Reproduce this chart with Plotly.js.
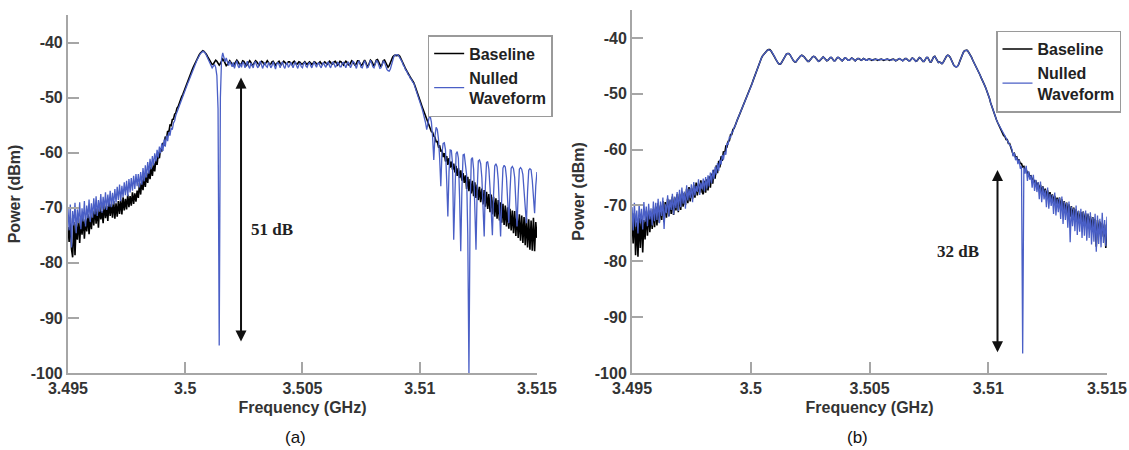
<!DOCTYPE html>
<html><head><meta charset="utf-8">
<script src="https://cdn.plot.ly/plotly-3.0.1.min.js"></script>
<style>html,body{margin:0;padding:0;background:#fff;}#chart{width:1129px;height:450px;}</style>
</head><body><div id="chart"></div>
<script>
// Frequency sweep grid (GHz): start and step of the analyzer sweep
const F_START = 3.495;
const F_STEP = 0.00005;

// Panel (a) - Baseline (dBm), one row = 0.001 GHz
const A_BASE = [
-73.5,-76.2,-71.8,-77.5,-79.0,-72.6,-78.6,-73.0,-75.8,-71.9,-76.4,-72.4,-74.9,-71.5,-75.6,-72.1,-74.3,-71.2,-74.8,-71.6,
-73.9,-70.5,-73.2,-69.8,-72.9,-70.1,-73.6,-69.5,-72.1,-70.6,-72.8,-69.2,-71.9,-69.7,-72.4,-68.9,-71.5,-69.3,-71.8,-68.8,
-72.0,-69.2,-71.6,-68.8,-71.1,-68.5,-71.2,-68.1,-70.5,-68.4,-70.3,-67.6,-69.9,-67.9,-69.6,-67.2,-69.3,-67.4,-68.9,-66.9,
-68.2,-65.5,-67.6,-64.9,-66.8,-64.3,-66.2,-63.7,-65.5,-63.1,-64.8,-62.5,-64.2,-61.9,-63.4,-61.2,-62.2,-60.2,-61.0,-59.2,
-59.8,-58.2,-58.7,-57.1,-57.5,-56.1,-56.3,-55.0,-55.1,-54.0,-53.9,-53.0,-52.8,-51.9,-51.6,-50.9,-50.5,-49.8,-49.4,-48.8,
-48.2,-47.6,-47.1,-46.5,-46.0,-45.4,-44.9,-44.4,-43.9,-43.4,-43.0,-42.6,-42.2,-41.9,-41.7,-41.5,-41.6,-41.8,-42.1,-42.5,
-42.9,-43.4,-43.8,-44.0,-43.9,-43.5,-43.2,-43.4,-43.8,-44.1,-43.8,-43.3,-43.0,-43.3,-43.8,-44.2,-44.0,-43.5,-43.3,-43.6,
-44.1,-44.3,-43.9,-43.4,-43.2,-43.5,-44.0,-44.2,-43.8,-43.3,-43.4,-43.8,-44.2,-44.0,-43.5,-43.3,-43.6,-44.1,-44.0,-43.6,
-43.3,-43.5,-43.9,-44.1,-43.7,-43.4,-43.5,-43.9,-44.0,-43.6,-43.3,-43.6,-44.0,-43.9,-43.5,-43.4,-43.7,-44.1,-43.8,-43.5,
-43.4,-43.8,-44.0,-43.7,-43.4,-43.6,-43.9,-43.8,-43.5,-43.5,-43.8,-44.0,-43.6,-43.4,-43.7,-44.0,-43.8,-43.5,-43.6,-43.9,
-43.9,-43.6,-43.5,-43.8,-44.0,-43.7,-43.5,-43.7,-44.0,-43.8,-43.5,-43.6,-43.9,-43.9,-43.6,-43.5,-43.8,-44.0,-43.7,-43.5,
-43.7,-44.0,-43.8,-43.4,-43.6,-44.0,-43.9,-43.5,-43.4,-43.8,-44.1,-43.8,-43.4,-43.5,-43.9,-44.1,-43.7,-43.4,-43.6,-44.0,
-44.1,-43.7,-43.3,-43.5,-44.0,-44.2,-43.8,-43.3,-43.3,-43.8,-44.2,-44.0,-43.4,-43.2,-43.6,-44.2,-44.3,-43.7,-43.2,-43.4,
-44.0,-44.3,-43.8,-43.2,-43.1,-43.6,-44.2,-44.4,-43.9,-43.3,-43.2,-43.7,-44.3,-44.5,-44.2,-43.6,-43.0,-42.6,-42.4,-42.3,
-42.4,-42.3,-42.3,-42.5,-42.9,-43.4,-43.9,-44.3,-44.8,-45.1,-45.6,-45.9,-46.3,-46.6,-47.0,-47.3,-47.9,-48.6,-49.2,-49.9,
-50.5,-51.0,-51.6,-52.2,-52.8,-53.3,-53.9,-54.4,-55.1,-55.4,-56.2,-56.3,-57.0,-57.2,-58.0,-58.0,-58.9,-58.7,-59.8,-59.5,
-60.8,-60.1,-61.6,-60.6,-62.2,-61.0,-62.7,-61.6,-63.1,-62.0,-63.6,-62.4,-64.2,-62.8,-64.6,-63.2,-65.1,-63.7,-65.5,-64.1,
-66.6,-64.4,-67.0,-64.8,-67.4,-65.1,-67.9,-65.4,-68.2,-65.8,-68.6,-66.2,-69.0,-66.5,-69.4,-66.8,-69.8,-67.1,-70.2,-67.5,
-70.8,-67.6,-71.2,-68.0,-71.6,-68.3,-72.0,-68.6,-72.3,-69.0,-72.7,-69.3,-73.1,-69.6,-73.4,-69.9,-73.8,-70.2,-74.1,-70.5,
-74.6,-70.6,-75.1,-70.9,-75.5,-71.2,-76.0,-71.4,-76.4,-71.7,-76.8,-71.9,-77.2,-72.1,-77.6,-72.3,-77.8,-71.8,-77.9,-72.6,
-75.5
];

// Panel (a) - Nulled waveform (dBm)
const A_NULL = [
-70.2,-74.1,-69.4,-77.2,-70.6,-73.2,-69.1,-74.6,-70.3,-72.8,-69.0,-73.9,-70.1,-72.5,-68.8,-73.4,-69.6,-71.9,-68.5,-72.6,
-69.2,-71.8,-68.3,-71.2,-67.9,-71.5,-68.6,-70.7,-67.5,-70.9,-68.0,-70.3,-67.2,-70.4,-67.6,-69.8,-66.9,-69.9,-67.3,-69.4,
-66.6,-69.1,-66.2,-68.6,-65.8,-68.8,-66.0,-68.1,-65.4,-67.7,-65.1,-67.9,-64.8,-67.2,-64.6,-66.9,-64.2,-66.6,-63.9,-66.1,
-63.9,-66.3,-63.5,-65.8,-62.8,-65.2,-62.3,-64.5,-61.7,-63.8,-61.1,-63.0,-60.6,-62.3,-60.1,-61.6,-59.5,-60.9,-58.9,-60.1,
-58.3,-59.7,-57.6,-58.9,-56.9,-57.9,-56.3,-56.9,-55.5,-55.8,-54.6,-54.2,-53.2,-52.6,-52.0,-51.5,-50.9,-50.4,-49.8,-49.3,
-48.7,-48.1,-47.5,-47.0,-46.4,-45.8,-45.3,-44.7,-44.2,-43.7,-43.2,-42.8,-42.3,-42.0,-41.8,-41.6,-41.7,-41.9,-42.3,-42.8,
-43.3,-43.9,-44.4,-44.6,-44.3,-44.0,-44.5,-46.0,-52.0,-95.0,-50.0,-43.0,-41.9,-42.6,-43.5,-42.8,-43.6,-44.2,-43.4,-43.9,
-44.4,-43.6,-44.7,-43.9,-43.3,-44.2,-44.6,-43.8,-44.5,-43.5,-43.8,-44.6,-44.0,-43.4,-44.3,-44.7,-43.7,-44.1,-44.6,-43.6,
-43.5,-44.2,-44.6,-43.9,-43.4,-44.0,-44.7,-44.1,-43.6,-44.3,-44.5,-43.7,-43.9,-44.6,-44.2,-43.5,-44.1,-44.8,-44.0,-43.6,
-44.0,-44.6,-43.8,-43.5,-44.3,-44.7,-43.9,-43.7,-44.5,-44.2,-43.6,-44.0,-44.6,-43.9,-43.5,-44.2,-44.7,-44.0,-43.7,-44.4,
-44.6,-43.8,-43.6,-44.3,-44.5,-43.9,-43.6,-44.2,-44.6,-44.0,-43.5,-44.1,-44.5,-43.8,-43.7,-44.3,-44.6,-43.9,-43.6,-44.2,
-44.5,-43.8,-43.5,-44.2,-44.6,-44.0,-43.5,-43.9,-44.5,-44.2,-43.6,-43.8,-44.4,-44.4,-43.7,-43.6,-44.3,-44.6,-43.9,-43.5,
-44.0,-44.6,-44.1,-43.4,-43.6,-44.4,-44.7,-43.9,-43.3,-43.7,-44.5,-44.6,-43.8,-43.3,-43.8,-44.6,-44.5,-43.6,-43.2,-43.7,
-44.4,-44.6,-43.9,-43.3,-43.4,-44.1,-44.7,-44.6,-43.8,-43.4,-43.6,-44.3,-44.9,-45.1,-45.2,-44.8,-43.9,-43.0,-42.5,-42.3,
-42.2,-42.2,-42.4,-42.7,-43.1,-43.5,-44.1,-44.4,-45.0,-45.2,-45.8,-46.0,-46.5,-46.7,-47.2,-47.4,-48.1,-48.7,-49.4,-50.1,
-50.8,-51.4,-52.0,-52.8,-53.5,-54.6,-55.8,-54.2,-53.6,-53.4,-54.5,-57.2,-61.3,-57.0,-55.4,-55.8,-57.5,-61.0,-66.1,-60.0,
-58.3,-58.2,-59.5,-65.0,-71.6,-63.5,-59.5,-59.6,-62.0,-75.8,-66.0,-60.2,-59.8,-61.0,-68.0,-77.9,-66.5,-60.4,-60.3,-62.0,
-64.0,-75.0,-100.0,-70.0,-61.2,-60.9,-63.0,-70.0,-77.6,-67.0,-61.5,-61.3,-62.0,-64.5,-71.0,-75.2,-66.0,-61.8,-61.6,-63.0,
-66.5,-71.5,-75.0,-67.5,-62.4,-62.0,-62.6,-65.0,-70.5,-75.2,-68.0,-62.8,-62.3,-62.6,-64.5,-68.5,-72.8,-67.0,-62.8,-62.5,
-62.9,-64.5,-68.8,-73.4,-67.5,-63.0,-62.7,-63.0,-64.0,-66.5,-70.0,-72.8,-67.0,-63.2,-62.9,-63.1,-65.0,-68.5,-71.0,-66.0,
-63.5
];

// Panel (b) - Baseline (dBm)
const B_BASE = [
-72.5,-76.8,-71.4,-78.9,-73.0,-79.2,-72.2,-77.6,-71.8,-78.4,-72.6,-76.1,-71.1,-75.4,-70.9,-74.8,-71.5,-74.2,-70.6,-73.9,
-70.2,-73.6,-69.6,-73.1,-70.0,-72.6,-69.2,-73.0,-69.4,-72.2,-68.8,-71.9,-69.1,-71.5,-68.4,-71.7,-68.6,-70.9,-68.0,-71.2,
-67.9,-70.8,-67.5,-70.2,-67.8,-69.9,-67.0,-69.6,-66.7,-69.3,-66.9,-68.8,-66.3,-68.6,-65.9,-68.2,-66.1,-67.7,-65.5,-67.6,
-68.0,-65.6,-67.7,-65.3,-67.3,-64.8,-66.8,-64.3,-66.1,-63.6,-65.2,-62.8,-64.2,-62.0,-63.2,-61.2,-62.0,-60.3,-60.8,-59.4,
-59.5,-58.5,-58.4,-57.3,-57.3,-56.4,-56.2,-55.5,-55.0,-54.5,-54.0,-53.5,-53.0,-52.4,-51.9,-51.4,-50.9,-50.4,-49.8,-49.3,
-48.8,-48.2,-47.6,-47.0,-46.4,-45.8,-45.2,-44.6,-44.1,-43.6,-43.2,-42.9,-42.6,-42.4,-42.2,-42.1,-42.1,-42.3,-42.6,-43.0,
-43.4,-43.8,-44.2,-44.5,-44.7,-44.7,-44.4,-44.0,-43.6,-43.2,-42.9,-42.8,-42.8,-43.0,-43.4,-43.8,-44.1,-44.3,-44.3,-44.0,
-43.7,-43.4,-43.2,-43.1,-43.2,-43.4,-43.7,-44.0,-44.2,-44.2,-44.0,-43.7,-43.4,-43.3,-43.4,-43.7,-44.0,-44.2,-44.1,-43.8,
-43.5,-43.4,-43.6,-43.9,-44.1,-44.0,-43.7,-43.5,-43.5,-43.8,-44.1,-44.1,-43.8,-43.5,-43.5,-43.7,-44.0,-44.1,-43.9,-43.6,
-43.6,-43.8,-44.0,-44.0,-43.8,-43.6,-43.7,-43.9,-44.1,-43.9,-43.7,-43.7,-43.9,-44.0,-43.9,-43.7,-43.8,-44.0,-44.0,-43.8,
-43.8,-43.9,-44.0,-43.9,-43.8,-43.8,-43.9,-44.0,-43.9,-43.8,-43.8,-43.9,-44.0,-43.9,-43.8,-43.8,-43.9,-44.0,-43.9,-43.8,
-43.8,-43.9,-44.1,-44.0,-43.8,-43.7,-43.8,-44.0,-44.1,-43.9,-43.7,-43.7,-43.9,-44.1,-44.1,-43.8,-43.6,-43.7,-44.0,-44.2,
-44.1,-43.8,-43.5,-43.6,-43.9,-44.2,-44.2,-43.8,-43.5,-43.5,-43.9,-44.3,-44.3,-43.9,-43.4,-43.3,-43.6,-44.1,-44.4,-44.3,
-44.5,-44.6,-44.4,-44.0,-43.5,-43.2,-43.1,-43.2,-43.5,-44.0,-44.5,-44.9,-45.1,-45.2,-45.1,-44.8,-44.2,-43.6,-43.0,-42.6,
-42.3,-42.2,-42.2,-42.4,-42.7,-43.1,-43.5,-44.0,-44.4,-44.8,-45.2,-45.7,-46.1,-46.6,-47.1,-47.5,-48.0,-48.5,-49.0,-49.5,
-50.1,-50.8,-51.6,-52.3,-53.0,-53.6,-54.2,-54.7,-55.2,-55.6,-56.1,-56.5,-56.9,-57.5,-57.6,-58.2,-58.2,-58.9,-58.9,-59.6,
-60.0,-60.9,-60.7,-61.4,-61.3,-62.0,-61.9,-62.5,-62.5,-63.1,-63.0,-63.6,-63.6,-64.2,-64.1,-64.8,-64.7,-65.3,-65.3,-65.9,
-65.5,-67.0,-65.9,-67.4,-66.3,-67.8,-66.6,-68.1,-67.0,-68.5,-67.3,-68.8,-67.6,-69.1,-68.0,-69.4,-68.3,-69.8,-68.6,-70.1,
-68.6,-70.6,-68.9,-71.0,-69.2,-71.3,-69.5,-71.6,-69.8,-72.0,-70.1,-72.3,-70.4,-72.5,-70.7,-72.9,-71.0,-73.2,-71.2,-73.5,
-71.1,-73.4,-71.4,-73.8,-71.6,-74.1,-71.9,-74.4,-72.1,-74.6,-72.4,-77.4,-72.6,-75.0,-72.9,-75.3,-73.1,-75.6,-73.4,-77.6,
-73.5
];

// Panel (b) - Nulled waveform (dBm)
const B_NULL = [
-70.3,-74.5,-69.5,-73.8,-70.9,-75.0,-69.8,-73.2,-70.6,-74.3,-69.4,-72.9,-70.2,-73.7,-69.7,-72.5,-70.5,-73.6,-69.3,-72.8,
-69.5,-72.6,-68.8,-73.2,-69.3,-71.9,-68.6,-74.2,-69.8,-71.4,-68.2,-72.0,-68.9,-70.8,-67.9,-71.6,-68.4,-70.5,-67.6,-71.0,
-67.2,-70.3,-66.8,-69.7,-67.5,-70.6,-66.4,-69.1,-67.0,-68.7,-66.2,-69.4,-65.8,-68.2,-66.5,-67.6,-65.3,-68.1,-65.9,-67.1,
-65.2,-67.5,-64.9,-67.0,-64.6,-66.6,-64.1,-66.0,-63.6,-65.3,-63.1,-64.5,-62.4,-63.8,-61.8,-62.7,-61.0,-61.8,-60.4,-60.9,
-58.8,-59.1,-57.7,-57.9,-56.9,-56.8,-56.0,-55.7,-55.0,-54.5,-54.0,-53.5,-53.0,-52.4,-51.9,-51.4,-50.9,-50.4,-49.8,-49.3,
-48.8,-48.3,-47.6,-47.0,-46.5,-45.8,-45.2,-44.7,-44.1,-43.6,-43.2,-42.9,-42.6,-42.4,-42.2,-42.1,-42.2,-42.3,-42.6,-43.0,
-43.4,-43.9,-44.2,-44.5,-44.7,-44.7,-44.4,-44.0,-43.6,-43.2,-42.9,-42.8,-42.8,-43.0,-43.4,-43.8,-44.1,-44.3,-44.3,-44.0,
-43.7,-43.4,-43.2,-43.1,-43.2,-43.4,-43.7,-44.0,-44.2,-44.2,-44.0,-43.7,-43.4,-43.3,-43.4,-43.7,-44.0,-44.2,-44.1,-43.8,
-43.5,-43.4,-43.6,-43.9,-44.1,-44.0,-43.7,-43.5,-43.5,-43.8,-44.1,-44.1,-43.8,-43.5,-43.5,-43.7,-44.0,-44.1,-43.9,-43.6,
-43.6,-43.8,-44.0,-44.0,-43.8,-43.6,-43.7,-43.9,-44.1,-43.9,-43.7,-43.7,-43.9,-44.0,-43.9,-43.7,-43.8,-44.0,-44.0,-43.8,
-43.9,-43.8,-43.9,-44.0,-43.9,-43.8,-43.8,-43.9,-44.0,-43.9,-43.8,-43.9,-43.9,-44.0,-43.9,-43.8,-43.8,-43.9,-44.0,-43.9,
-43.8,-43.9,-44.1,-44.0,-43.8,-43.7,-43.8,-44.0,-44.1,-43.9,-43.7,-43.7,-43.9,-44.1,-44.1,-43.8,-43.6,-43.7,-44.0,-44.2,
-44.1,-43.8,-43.5,-43.6,-43.9,-44.2,-44.2,-43.8,-43.5,-43.5,-43.9,-44.3,-44.3,-43.9,-43.4,-43.3,-43.6,-44.1,-44.4,-44.3,
-44.5,-44.6,-44.4,-44.0,-43.5,-43.2,-43.1,-43.2,-43.5,-44.0,-44.5,-44.9,-45.1,-45.2,-45.1,-44.8,-44.2,-43.6,-43.0,-42.6,
-42.3,-42.2,-42.2,-42.4,-42.7,-43.1,-43.5,-44.0,-44.4,-44.8,-45.2,-45.7,-46.1,-46.6,-47.1,-47.5,-48.0,-48.5,-49.0,-49.5,
-50.1,-50.8,-51.6,-52.3,-53.0,-53.6,-54.2,-54.7,-55.2,-55.6,-56.1,-56.5,-56.9,-57.3,-57.7,-58.0,-58.4,-58.7,-59.1,-59.4,
-60.0,-61.2,-60.6,-61.9,-61.3,-62.6,-61.8,-63.4,-63.0,-96.5,-63.2,-64.3,-62.9,-65.6,-63.9,-65.4,-64.6,-66.8,-64.5,-67.4,
-65.4,-67.6,-65.8,-68.9,-65.7,-69.4,-66.6,-68.9,-67.2,-70.3,-66.8,-70.6,-67.9,-70.1,-68.1,-71.5,-67.7,-71.8,-68.8,-71.2,
-68.6,-72.4,-68.4,-73.3,-69.3,-72.6,-69.5,-74.0,-69.3,-76.6,-70.2,-73.7,-70.5,-74.6,-70.0,-75.3,-70.9,-74.7,-70.6,-75.8,
-71.1,-75.4,-70.9,-76.3,-71.4,-75.8,-71.2,-77.0,-72.1,-76.5,-71.5,-78.3,-71.8,-76.9,-72.4,-77.5,-71.3,-76.7,-72.6,-77.3,
-72.0
];

const SERIES_NAMES = ['Baseline', 'Nulled<br>Waveform'];
const SERIES_COLORS = ['#000000', '#4a5fc6'];
const X_TICK_VALS = [3.495, 3.5, 3.505, 3.51, 3.515];
const X_TICK_TEXT = ['3.495', '3.5', '3.505', '3.51', '3.515'];
const Y_TICK_VALS = [-100, -90, -80, -70, -60, -50, -40];
const Y_TICK_TEXT = ['-100', '-90', '-80', '-70', '-60', '-50', '-40'];
const X_RANGE = [3.495, 3.515];
const Y_RANGE = [-100, -35];
const PANEL_LABELS = ['(a)', '(b)'];
// Suppression arrows: [frequency, top dBm, bottom dBm, label, label freq, label dBm]
const ARROW_A = [3.50238, -46.1, -94.3, '51 dB', 3.50370, -74.0];
const ARROW_B = [3.51039, -63.4, -96.3, '32 dB', 3.50871, -78.3];

const FREQ = A_BASE.map((_, i) => +(F_START + i * F_STEP).toFixed(5));

function trace(y, k, xa, ya, lg) {
  return {
    x: FREQ, y: y, type: 'scatter', mode: 'lines',
    name: SERIES_NAMES[k], legend: lg, xaxis: xa, yaxis: ya,
    line: {color: SERIES_COLORS[k], width: k === 0 ? 1.6 : 1.3},
    hoverinfo: 'skip'
  };
}

const data = [
  trace(A_BASE, 0, 'x', 'y', 'legend'),
  trace(A_NULL, 1, 'x', 'y', 'legend'),
  trace(B_BASE, 0, 'x2', 'y2', 'legend2'),
  trace(B_NULL, 1, 'x2', 'y2', 'legend2')
];

const AX_COLOR = '#a6a6a6';
const LBL_FONT = {family: 'Liberation Sans, Arial, sans-serif', size: 16, color: '#333333', weight: 700};

function xAxis(domain, anchor) {
  return {
    domain: domain, anchor: anchor, range: X_RANGE,
    tickmode: 'array', tickvals: X_TICK_VALS, ticktext: X_TICK_TEXT,
    ticks: 'inside', ticklen: 11, tickwidth: 2, tickcolor: AX_COLOR,
    showline: true, linecolor: AX_COLOR, linewidth: 2, mirror: false,
    showgrid: false, zeroline: false, tickfont: LBL_FONT,
    title: {text: 'Frequency (GHz)', font: LBL_FONT, standoff: 6}
  };
}
function yAxis(domain, anchor) {
  return {
    domain: domain, anchor: anchor, range: Y_RANGE,
    tickmode: 'array', tickvals: Y_TICK_VALS, ticktext: Y_TICK_TEXT,
    ticks: 'inside', ticklen: 11, tickwidth: 2, tickcolor: AX_COLOR,
    showline: true, linecolor: AX_COLOR, linewidth: 2, mirror: false,
    showgrid: false, zeroline: false, tickfont: LBL_FONT,
    title: {text: 'Power (dBm)', font: LBL_FONT, standoff: 6}
  };
}

function arrowAnn(a, xr, yr) {
  return [
    {x: a[0], y: a[2], ax: a[0], ay: a[1], xref: xr, yref: yr, axref: xr, ayref: yr,
     text: '', showarrow: true, arrowside: 'end+start', arrowhead: 2, arrowsize: 1.1,
     arrowwidth: 2, arrowcolor: '#111', standoff: 0, startstandoff: 0},
    {x: a[4], y: a[5], xref: xr, yref: yr, text: a[3], showarrow: false,
     font: {family: 'Liberation Serif, Times New Roman, serif', size: 17, color: '#222', weight: 700}}
  ];
}

const legendCommon = {
  bgcolor: '#ffffff', bordercolor: '#9a9a9a', borderwidth: 1.5,
  font: {family: 'Liberation Sans, Arial, sans-serif', size: 16, color: '#222', weight: 700},
  xanchor: 'left', yanchor: 'top', tracegroupgap: 0
};

const layout = {
  width: 1129, height: 450,
  margin: {l: 0, r: 0, t: 0, b: 0},
  paper_bgcolor: '#ffffff', plot_bgcolor: '#ffffff',
  showlegend: true,
  xaxis: xAxis([0.0602, 0.4756], 'y'),
  yaxis: yAxis([0.1711, 0.9667], 'x'),
  xaxis2: xAxis([0.5598, 0.9805], 'y2'),
  yaxis2: yAxis([0.1711, 0.9778], 'x2'),
  legend: Object.assign({x: 0.3788, y: 0.922}, legendCommon),
  legend2: Object.assign({x: 0.8822, y: 0.932}, legendCommon),
  annotations: [].concat(
    arrowAnn(ARROW_A, 'x', 'y'),
    arrowAnn(ARROW_B, 'x2', 'y2'),
    [
      {x: 0.2507, y: 0.0267, xref: 'paper', yref: 'paper', yanchor: 'middle', text: PANEL_LABELS[0], showarrow: false,
       font: {family: 'Liberation Sans, Arial, sans-serif', size: 17, color: '#111'}},
      {x: 0.7706, y: 0.0267, xref: 'paper', yref: 'paper', yanchor: 'middle', text: PANEL_LABELS[1], showarrow: false,
       font: {family: 'Liberation Sans, Arial, sans-serif', size: 17, color: '#111'}}
    ]
  )
};

Plotly.newPlot('chart', data, layout, {displayModeBar: false, staticPlot: true});
</script>
</body></html>
